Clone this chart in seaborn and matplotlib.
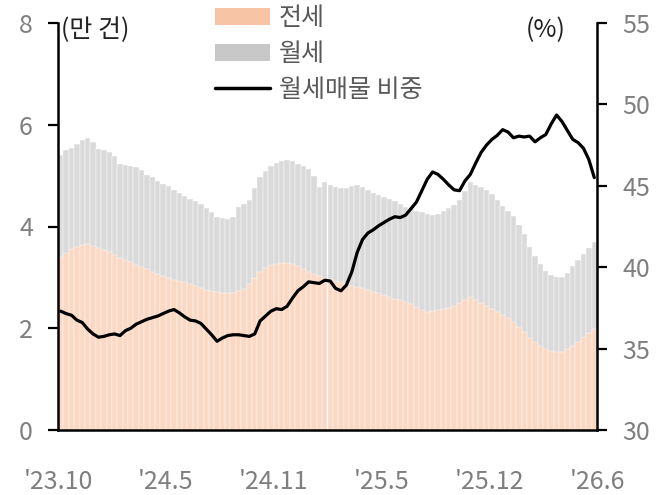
import numpy as np
import matplotlib
matplotlib.use('Agg')
import matplotlib.pyplot as plt
from matplotlib.patches import Patch
from matplotlib.lines import Line2D
import seaborn as sns

# values (about every 9-10 days, Oct 2023 - Jun 2026)
total_listings = [
    5.40, 5.50, 5.55, 5.62, 5.70, 5.74, 5.66, 5.52, 5.50, 5.47,
    5.38, 5.22, 5.20, 5.18, 5.17, 5.12, 5.02, 4.97, 4.90, 4.84,
    4.80, 4.72, 4.66, 4.60, 4.55, 4.50, 4.44, 4.36, 4.28, 4.18,
    4.16, 4.15, 4.19, 4.38, 4.45, 4.52, 4.75, 4.97, 5.10, 5.18,
    5.24, 5.28, 5.30, 5.28, 5.22, 5.18, 5.14, 5.00, 4.78, 4.87,
    4.82, 4.78, 4.76, 4.75, 4.80, 4.82, 4.78, 4.72, 4.66, 4.62,
    4.58, 4.54, 4.50, 4.45, 4.38, 4.34, 4.31, 4.28, 4.25, 4.22,
    4.24, 4.30, 4.36, 4.42, 4.52, 4.70, 4.87, 4.82, 4.78, 4.72,
    4.64, 4.52, 4.40, 4.30, 4.20, 4.02, 3.85, 3.60, 3.42, 3.26,
    3.12, 3.04, 3.00, 3.00, 3.08, 3.22, 3.34, 3.46, 3.58, 3.70,
]
jeonse = [
    3.40, 3.48, 3.55, 3.60, 3.64, 3.65, 3.62, 3.57, 3.54, 3.50,
    3.44, 3.38, 3.34, 3.30, 3.25, 3.20, 3.16, 3.11, 3.06, 3.02,
    2.98, 2.95, 2.93, 2.90, 2.86, 2.83, 2.79, 2.76, 2.74, 2.72,
    2.70, 2.69, 2.70, 2.74, 2.78, 2.86, 2.98, 3.10, 3.18, 3.24,
    3.27, 3.28, 3.28, 3.26, 3.22, 3.16, 3.11, 3.06, 3.02, 2.98,
    2.96, 2.93, 2.90, 2.87, 2.84, 2.82, 2.79, 2.76, 2.72, 2.69,
    2.65, 2.62, 2.58, 2.55, 2.52, 2.48, 2.42, 2.36, 2.32, 2.34,
    2.36, 2.37, 2.40, 2.44, 2.50, 2.56, 2.62, 2.56, 2.50, 2.43,
    2.37, 2.31, 2.26, 2.21, 2.12, 2.02, 1.92, 1.81, 1.72, 1.65,
    1.59, 1.56, 1.53, 1.54, 1.60, 1.66, 1.73, 1.82, 1.90, 1.98,
]
monthly_share = [
    37.30, 37.15, 37.05, 36.75, 36.60, 36.20, 35.90, 35.70, 35.75, 35.85,
    35.90, 35.80, 36.10, 36.25, 36.50, 36.65, 36.80, 36.90, 37.00, 37.15,
    37.30, 37.40, 37.20, 36.95, 36.75, 36.70, 36.55, 36.20, 35.85, 35.45,
    35.65, 35.80, 35.85, 35.85, 35.80, 35.75, 35.90, 36.70, 37.00, 37.30,
    37.45, 37.40, 37.60, 38.10, 38.55, 38.80, 39.10, 39.05, 39.00, 39.20,
    39.15, 38.70, 38.55, 38.90, 39.70, 40.90, 41.70, 42.10, 42.30, 42.55,
    42.75, 42.95, 43.10, 43.05, 43.20, 43.60, 44.00, 44.70, 45.40, 45.85,
    45.70, 45.40, 45.05, 44.75, 44.70, 45.30, 45.70, 46.40, 47.05, 47.50,
    47.85, 48.10, 48.45, 48.30, 47.95, 48.05, 48.00, 48.05, 47.70, 47.95,
    48.15, 48.80, 49.35, 48.95, 48.40, 47.85, 47.65, 47.30, 46.60, 45.50,
]
tick_labels = ["'23.10", "'24.5", "'24.11", "'25.5", "'25.12", "'26.6"]

JEONSE_C = '#FAD8C4'
WOLSE_C = '#DADADA'
TICK_C = '#7F7F7F'
FS = 18

sns.set_theme(style='ticks')
plt.rcParams['font.family'] = ['Noto Sans CJK KR', 'DejaVu Sans']
plt.rcParams['font.weight'] = 'light'
plt.rcParams['axes.linewidth'] = 1.8

n = len(total_listings)
idx = list(range(n))

fig = plt.figure(figsize=(6.65, 4.95), dpi=100)
ax = fig.add_axes([58 / 665, 65 / 495, 539 / 665, 407 / 495])

# stacked bars: grey total behind, jeonse in front
sns.barplot(x=idx, y=total_listings, color=WOLSE_C, saturation=1, width=1,
            edgecolor='white', linewidth=0.3, ax=ax)
sns.barplot(x=idx, y=jeonse, color=JEONSE_C, saturation=1, width=1,
            edgecolor='white', linewidth=0.3, ax=ax)

ax.set_xlim(-0.5, n - 0.5)
ax.set_ylim(0, 8)
ax.set_yticks([0, 2, 4, 6, 8])
step = n / (len(tick_labels) - 1)
ax.set_xticks([-0.5 + step * k for k in range(len(tick_labels))])
ax.set_xticklabels(tick_labels)
ax.set_xlabel('')
ax.set_ylabel('')
ax.tick_params(axis='x', length=0, pad=28, labelsize=FS, colors=TICK_C)
ax.tick_params(axis='y', length=7, width=1.6, pad=11, labelsize=FS,
               labelcolor=TICK_C, color='black')
for s in ['top', 'right']:
    ax.spines[s].set_visible(False)
for s in ['left', 'bottom']:
    ax.spines[s].set_color('black')

ax2 = ax.twinx()
sns.lineplot(x=idx, y=monthly_share, color='black', lw=2.3, ax=ax2)
ax2.set_ylim(30, 55)
ax2.set_yticks([30, 35, 40, 45, 50, 55])
ax2.set_ylabel('')
ax2.tick_params(axis='y', length=7, width=1.6, pad=11, labelsize=FS,
                labelcolor=TICK_C, color='black')
ax2.spines['top'].set_visible(False)
ax2.spines['left'].set_visible(False)
ax2.spines['bottom'].set_visible(False)
ax2.spines['right'].set_color('black')
ax2.set_xlim(-0.5, n - 0.5)

fig.text(61 / 665, 1 - 30 / 495, '(만 건)', fontsize=FS, color='#222222',
         va='center', ha='left')
fig.text(566 / 665, 1 - 30 / 495, '(%)', fontsize=FS, color='#222222',
         va='center', ha='right')

handles = [Patch(facecolor='#F7C4A5', edgecolor='none'),
           Patch(facecolor='#C8C8C8', edgecolor='none'),
           Line2D([0], [0], color='black', lw=2.5)]
labels = ['전세', '월세', '월세매물 비중']
fig.legend(handles, labels, loc='upper left', bbox_to_anchor=(205 / 665, 1.01),
           frameon=False, fontsize=FS, labelcolor='#595959',
           handlelength=2.2, handletextpad=0.35, labelspacing=0.4,
           borderaxespad=0)

fig.savefig('out.png', dpi=100)
